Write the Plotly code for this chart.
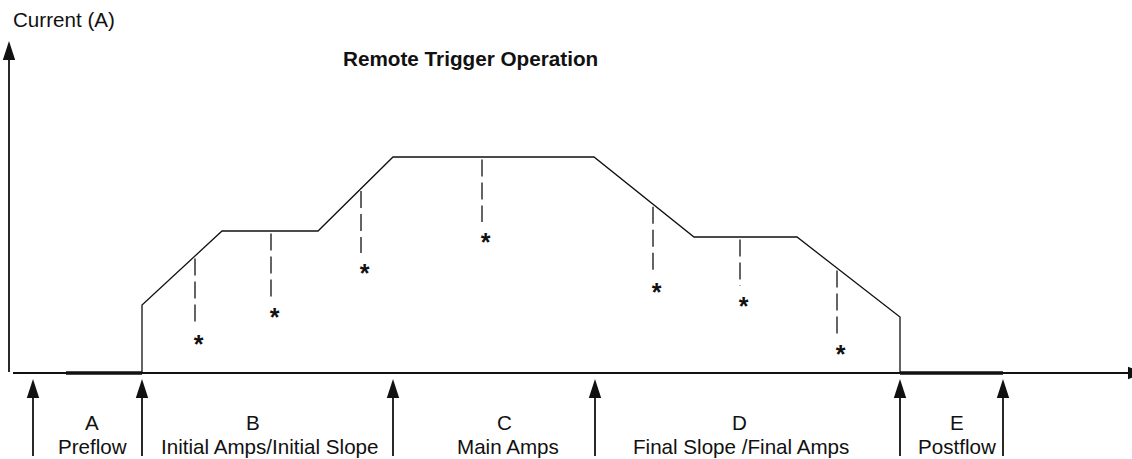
import numpy as np
import plotly.graph_objects as go

# Welding current profile for remote-trigger operation
wave_time = [142, 142, 222, 318, 393, 594, 694, 797, 900, 900]
wave_current = [0, 68, 142, 142, 216, 216, 136, 136, 56, 0]

# Gas flow before and after the arc (no current)
preflow_time = [66, 142]
postflow_time = [900, 1003]

# Points where the remote control can pull the current down, and how low it goes
remote_time = [195, 271, 361, 482, 653, 740, 837]
remote_low = [49, 76, 120, 151, 101, 87, 39]

# Sequence phases
phase_bounds = [33, 142, 393, 595, 900, 1003]
phase_letters = ["A", "B", "C", "D", "E"]
phase_names = ["Preflow", "Initial Amps/Initial Slope", "Main Amps",
               "Final Slope /Final Amps", "Postflow"]

FONT = "Liberation Sans, Arial, Helvetica, sans-serif"
INK = "#111111"
LABEL_SIZE = 20.6

fig = go.Figure()


def arrow(x0, y0, x1, y1, angle, head=20, width=1.8, inset=6):
    """Shaft from (x0, y0) towards (x1, y1) with a filled head at (x1, y1)."""
    length = float(np.hypot(x1 - x0, y1 - y0))
    k = (length - inset) / length
    fig.add_trace(go.Scatter(x=[x0, x0 + (x1 - x0) * k],
                             y=[y0, y0 + (y1 - y0) * k], mode="lines",
                             line=dict(color=INK, width=width),
                             hoverinfo="skip", showlegend=False))
    fig.add_trace(go.Scatter(x=[x1], y=[y1], mode="markers",
                             marker=dict(symbol="arrow", size=head, angle=angle,
                                         color=INK, line=dict(width=0)),
                             hoverinfo="skip", showlegend=False))


# axes
arrow(9, 1, 9, 332, 0)
arrow(13, 0, 1147, 0, 90, width=2, inset=12)

# baseline gas-flow segments
for seg in (preflow_time, postflow_time):
    fig.add_trace(go.Scatter(x=seg, y=[0, 0], mode="lines",
                             line=dict(color=INK, width=3.4),
                             hoverinfo="skip", showlegend=False))

# current waveform
fig.add_trace(go.Scatter(x=wave_time, y=wave_current, mode="lines",
                         line=dict(color=INK, width=1.3),
                         hoverinfo="skip", showlegend=False))

# dashed drop lines from the waveform down to the remote minimum
remote_top = np.interp(remote_time, wave_time[1:-1], wave_current[1:-1]) - 2.5
dx, dy = [], []
for t, hi, lo in zip(remote_time, remote_top, remote_low):
    dx += [t, t, None]
    dy += [hi, lo, None]
fig.add_trace(go.Scatter(x=dx, y=dy, mode="lines",
                         line=dict(color=INK, width=1.3, dash="17px,6px"),
                         hoverinfo="skip", showlegend=False))

# asterisks below each drop line
fig.add_trace(go.Scatter(x=[t + 3.5 for t in remote_time],
                         y=[lo - 23 for lo in remote_low],
                         mode="text", text=["<b>*</b>"] * len(remote_time),
                         textposition="middle center",
                         textfont=dict(family=FONT, size=25, color=INK),
                         hoverinfo="skip", showlegend=False))

# phase boundary arrows
for b in phase_bounds:
    arrow(b, -83, b, -6, 0)

annotations = []

# phase labels
letter_x = [92, 253, 504, 739, 957]
name_x = [92, 270, 508, 741, 957]
for lx, nx, letter, name in zip(letter_x, name_x, phase_letters, phase_names):
    annotations.append(dict(x=lx, y=-49, xref="x", yref="y", text=letter,
                            showarrow=False, xanchor="center", yanchor="middle",
                            font=dict(family=FONT, size=LABEL_SIZE, color=INK)))
    annotations.append(dict(x=nx, y=-73, xref="x", yref="y", text=name,
                            showarrow=False, xanchor="center", yanchor="middle",
                            font=dict(family=FONT, size=LABEL_SIZE, color=INK)))

# titles
annotations.append(dict(x=470, y=315, xref="x", yref="y",
                        text="<b>Remote Trigger Operation</b>", showarrow=False,
                        xanchor="center", yanchor="middle",
                        font=dict(family=FONT, size=20.7, color=INK)))
annotations.append(dict(x=11, y=354, xref="x", yref="y",
                        text="Current (A)", showarrow=False,
                        xanchor="left", yanchor="middle",
                        font=dict(family=FONT, size=LABEL_SIZE, color=INK)))

fig.update_layout(
    width=1132, height=459, autosize=False,
    margin=dict(l=0, r=0, t=0, b=0, pad=0),
    paper_bgcolor="white", plot_bgcolor="white",
    xaxis=dict(range=[0, 1132], visible=False, fixedrange=True),
    yaxis=dict(range=[-86, 373], visible=False, fixedrange=True),
    annotations=annotations,
    showlegend=False,
)

fig.write_html("out.html")
